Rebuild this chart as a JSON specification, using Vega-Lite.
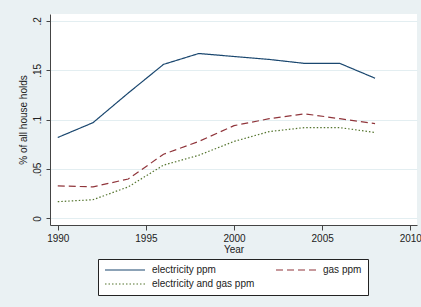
{
  "$schema": "https://vega.github.io/schema/vega-lite/v6.json",
  "autosize": "none",
  "width": 367,
  "height": 211,
  "padding": {"left": 50, "top": 14, "right": 4, "bottom": 82},
  "background": "#eaf1f3",
  "view": {"fill": "white", "stroke": null},
  "config": {
    "font": "Liberation Sans",
    "axis": {"labelFont": "Liberation Sans", "titleFont": "Liberation Sans", "labelColor": "#222", "titleColor": "#222", "domainColor": "#444", "tickColor": "#444", "titleFontWeight": "normal"},
    "legend": {"labelFont": "Liberation Sans"}
  },
  "data": {
    "values": [
      {"year": 1990, "series": "electricity ppm", "v": 0.082},
      {"year": 1992, "series": "electricity ppm", "v": 0.097},
      {"year": 1994, "series": "electricity ppm", "v": 0.127},
      {"year": 1996, "series": "electricity ppm", "v": 0.156},
      {"year": 1998, "series": "electricity ppm", "v": 0.167},
      {"year": 2000, "series": "electricity ppm", "v": 0.164},
      {"year": 2002, "series": "electricity ppm", "v": 0.161},
      {"year": 2004, "series": "electricity ppm", "v": 0.157},
      {"year": 2006, "series": "electricity ppm", "v": 0.157},
      {"year": 2008, "series": "electricity ppm", "v": 0.142},
      {"year": 1990, "series": "gas ppm", "v": 0.033},
      {"year": 1992, "series": "gas ppm", "v": 0.032},
      {"year": 1994, "series": "gas ppm", "v": 0.040},
      {"year": 1996, "series": "gas ppm", "v": 0.065},
      {"year": 1998, "series": "gas ppm", "v": 0.078},
      {"year": 2000, "series": "gas ppm", "v": 0.094},
      {"year": 2002, "series": "gas ppm", "v": 0.101},
      {"year": 2004, "series": "gas ppm", "v": 0.106},
      {"year": 2006, "series": "gas ppm", "v": 0.101},
      {"year": 2008, "series": "gas ppm", "v": 0.096},
      {"year": 1990, "series": "electricity and gas ppm", "v": 0.017},
      {"year": 1992, "series": "electricity and gas ppm", "v": 0.019},
      {"year": 1994, "series": "electricity and gas ppm", "v": 0.032},
      {"year": 1996, "series": "electricity and gas ppm", "v": 0.054},
      {"year": 1998, "series": "electricity and gas ppm", "v": 0.064},
      {"year": 2000, "series": "electricity and gas ppm", "v": 0.078},
      {"year": 2002, "series": "electricity and gas ppm", "v": 0.088},
      {"year": 2004, "series": "electricity and gas ppm", "v": 0.092},
      {"year": 2006, "series": "electricity and gas ppm", "v": 0.092},
      {"year": 2008, "series": "electricity and gas ppm", "v": 0.087}
    ]
  },
  "mark": {"type": "line", "strokeWidth": 1.2},
  "encoding": {
    "x": {
      "field": "year", "type": "quantitative",
      "scale": {"domain": [1989.56, 2010.38], "nice": false, "zero": false},
      "axis": {"values": [1990, 1995, 2000, 2005, 2010], "format": "d", "grid": false, "tickSize": 5, "labelFontSize": 10, "labelPadding": 3, "title": "Year", "titleFontSize": 10, "titlePadding": 1}
    },
    "y": {
      "field": "v", "type": "quantitative",
      "scale": {"domain": [-0.0066, 0.207], "nice": false, "zero": false},
      "axis": {"values": [0, 0.05, 0.1, 0.15, 0.2], "labelExpr": "replace(format(datum.value, '.2~f'), '0.', '.')", "labelAngle": -90, "labelAlign": "center", "labelBaseline": "bottom", "labelFontSize": 10, "labelPadding": 4, "tickSize": 4, "grid": true, "gridColor": "#e3eef1", "gridWidth": 1, "title": "% of all house holds", "titleFontSize": 10, "titlePadding": 4}
    },
    "color": {
      "field": "series", "type": "nominal",
      "scale": {"domain": ["electricity ppm", "gas ppm", "electricity and gas ppm"], "range": ["#1a476f", "#90353b", "#55752f"]},
      "legend": {"title": null, "values": ["electricity ppm", "gas ppm", "electricity and gas ppm"], "orient": "none", "direction": "horizontal", "legendX": 48, "legendY": 245, "columns": 2, "gridAlign": "each", "columnPadding": 18, "rowPadding": 4, "padding": 6, "fillColor": "white", "strokeColor": "#222", "symbolType": "M-1,0H9", "symbolSize": 64, "symbolStrokeWidth": 1.2, "labelFontSize": 10, "labelOffset": 38, "labelColor": "#222"}
    },
    "strokeDash": {
      "field": "series", "type": "nominal",
      "scale": {"domain": ["electricity ppm", "gas ppm", "electricity and gas ppm"], "range": [[1, 0], [7, 4], [1.5, 2]]},
      "legend": {"title": null, "values": ["electricity ppm", "gas ppm", "electricity and gas ppm"]}
    }
  }
}
